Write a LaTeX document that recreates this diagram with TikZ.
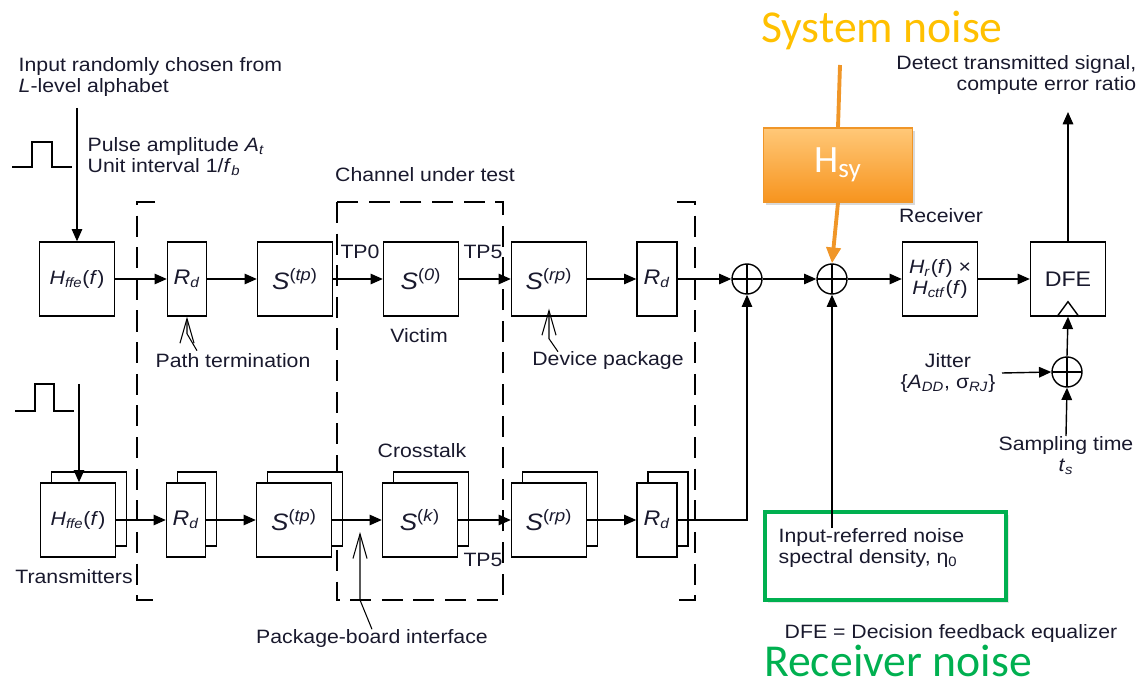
\documentclass[tikz,border=0pt]{standalone}
\usepackage{fontspec}
\setmainfont{Liberation Sans}[FakeStretch=1.1]
\newfontfamily\calib{Carlito}
\usetikzlibrary{arrows.meta,shadows}
\definecolor{sysorange}{RGB}{255,192,0}
\definecolor{hsyline}{RGB}{240,150,40}
\definecolor{hsytop}{RGB}{255,200,120}
\definecolor{hsybot}{RGB}{247,148,30}
\definecolor{rxgreen}{RGB}{0,176,80}
\definecolor{ink}{RGB}{25,25,45}
\newcommand{\spar}[1]{{\fontsize{13.5}{14}\selectfont\textit{S}\textsuperscript{(\textit{#1})}}}
\newcommand{\hffe}{\textit{H}\textsubscript{\textit{ffe}}(\textit{f})}
\newcommand{\rdterm}{{\fontsize{12}{13}\selectfont\textit{R}\textsubscript{\textit{d}}}}

\begin{document}
\begin{tikzpicture}[x=0.02cm, y=-0.02cm, line width=0.8pt,
  every node/.style={font=\fontsize{11}{12}\selectfont, text=ink},
  >={Triangle[length=7pt,width=6pt]},
  blk/.style={draw, fill=white, minimum width=1.5cm, minimum height=1.48cm, inner sep=0pt},
  rblk/.style={blk, minimum width=0.78cm},
  sumnode/.style={draw, circle, minimum size=0.6cm, inner sep=0pt,
    path picture={\draw (path picture bounding box.north) -- (path picture bounding box.south)
      (path picture bounding box.west) -- (path picture bounding box.east);}},
  sig/.style={->},
  callout/.style={-{Straight Barb[length=14pt,width=8pt]}, line width=0.6pt},
  frame/.style={dash pattern=on 12pt off 6pt},
  txt/.style={inner sep=0pt, align=left},
  bignote/.style={font=\calib\fontsize{26}{28}\selectfont, inner sep=0pt}]
\useasboundingbox (0,0) rectangle (1140,689);

% test frames
\draw[frame] (155,202) -- (137,202) -- (137,600) -- (155,600);
\draw[frame] (337,202) rectangle (503,600);
\draw[frame] (677,202) -- (695,202) -- (695,600) -- (677,600);

% victim path
\node[blk] (hffe1) at (77,279) {\hffe};
\node[rblk] (rd1) at (187,279) {\rdterm};
\node[blk] (stp1) at (295,279) {\spar{tp}};
\node[blk] (s0) at (421,279) {\spar{0}};
\node[blk] (srp1) at (549,279) {\spar{rp}};
\node[rblk, minimum width=0.8cm] (rd2) at (657,279) {\rdterm};
\node[sumnode] (sum1) at (747,279) {};
\node[sumnode] (sum2) at (832,279) {};
\node[blk, align=center] (rx) at (940,279) {\textit{H}\textsubscript{\textit{r}}(\textit{f}) ×\\\textit{H}\textsubscript{\textit{ctf}}(\textit{f})};
\node[blk, font=\fontsize{12}{13}\selectfont] (dfe) at (1068,279) {DFE};
\draw ([xshift=-0.22cm]dfe.south) -- ([yshift=0.3cm]dfe.south) -- ([xshift=0.22cm]dfe.south);

% crosstalk path
\node[blk] (hffe2b) at (89,509) {};
\node[blk] (hffe2) at (78,520) {\hffe};
\node[rblk] (rd3b) at (197,509) {};
\node[rblk] (rd3) at (186,520) {\rdterm};
\node[blk] (stp2b) at (305,509) {};
\node[blk] (stp2) at (294,520) {\spar{tp}};
\node[blk] (skb) at (431,509) {};
\node[blk] (sk) at (420,520) {\spar{k}};
\node[blk] (srp2b) at (560,509) {};
\node[blk] (srp2) at (549,520) {\spar{rp}};
\node[rblk, minimum width=0.8cm] (rd4b) at (668,509) {};
\node[rblk, minimum width=0.8cm] (rd4) at (657,520) {\rdterm};

% jitter
\node[sumnode] (sum3) at (1067,372) {};
\node[align=center] (jit) at (948,373) {Jitter\\\{\textit{A}\textsubscript{\textit{DD}}, σ\textsubscript{\textit{RJ}}\}};
\node[align=center, anchor=north, inner sep=0pt] (samp) at (1066,436) {Sampling time\\\textit{t}\textsubscript{\textit{s}}};

% system noise
\node[draw=hsyline, top color=hsytop, bottom color=hsybot, minimum width=2.98cm, minimum height=1.48cm,
  drop shadow={opacity=0.3, shadow xshift=1.5pt, shadow yshift=-1.5pt},
  text=white, font=\calib\fontsize{22}{24}\selectfont] (hsy) at (838,165) {H\textsubscript{sy}};
\coordinate (sysin) at (840,65);
\draw[line width=2.2pt, hsyline] (sysin) -- (hsy.north);
\draw[line width=2.2pt, hsyline, -{Triangle[length=9pt,width=8pt]}] (hsy.south) -- (sum2.north);

% receiver noise
\node[draw=rxgreen, fill=white, line width=2.3pt, minimum width=4.82cm, minimum height=1.76cm,
  drop shadow={opacity=0.2, shadow xshift=1.5pt, shadow yshift=-1.5pt}] (gbox) at (885.5,556) {};
\node[txt, anchor=north west] (eta) at (778,528) {Input-referred noise\\spectral density, η\textsubscript{0}};

% labels
\node[txt, anchor=north west] (inlbl) at (18,57) {Input randomly chosen from\\\textit{L}-level alphabet};
\node[txt, anchor=north west] (pulselbl) at (87,137) {Pulse amplitude \textit{A}\textsubscript{\textit{t}}\\Unit interval 1/\textit{f}\textsubscript{\textit{b}}};
\node[inner sep=0pt] (cut) at (425,175) {Channel under test};
\node[inner sep=0pt] (tp0) at (360,252) {TP0};
\node[inner sep=0pt] (tp5a) at (483,252) {TP5};
\node[inner sep=0pt] (victim) at (419,336) {Victim};
\node[inner sep=0pt] (pterm) at (233,361) {Path termination};
\node[inner sep=0pt] (dpkg) at (608,361) {Device package};
\node[inner sep=0pt] (rxlbl) at (941,216) {Receiver};
\node[txt, align=right, anchor=north east] (detect) at (1137,55) {Detect transmitted signal,\\compute error ratio};
\node[inner sep=0pt] (xtalk) at (422,451) {Crosstalk};
\node[inner sep=0pt] (tp5b) at (483,560) {TP5};
\node[inner sep=0pt] (txlbl) at (74,577) {Transmitters};
\node[inner sep=0pt] (pbi) at (372,639) {Package-board interface};
\node[inner sep=0pt] (dfenote) at (951,634) {DFE = Decision feedback equalizer};
\node[bignote, text=sysorange, anchor=base] (sysn) at (882,43) {System noise};
\node[bignote, text=rxgreen, anchor=base] (rxn) at (898,676) {Receiver noise};

% input pulses
\draw[line width=0.7pt] (12,167) -- (32,167) -- (32,142) -- (52,142) -- (52,167) -- (72,167);
\draw[line width=0.7pt] (15,411) -- (35,411) -- (35,384) -- (54,384) -- (54,411) -- (74,411);
\coordinate (inb) at (79,384);
\coordinate (intop) at (77,108);
\coordinate (dfeout) at (1068,112);
\coordinate (pbtip) at (360,532);

% signal flow
\draw[sig] (intop) -- (hffe1.north);
\draw[sig] (inb) -- (inb |- hffe2.north);
\foreach \a/\b in {hffe1/rd1, rd1/stp1, stp1/s0, s0/srp1, srp1/rd2, rd2/sum1, sum1/sum2, sum2/rx, rx/dfe, hffe2/rd3, rd3/stp2, stp2/sk, sk/srp2, srp2/rd4}
  \draw[sig] (\a.east) -- (\b.west);
\draw[sig] (rd4.east) -| (sum1.south);
\draw[sig] (eta.north -| sum2.south) -- (sum2.south);
\draw[sig] (dfe.north) -- (dfeout);
\draw[sig] (jit.east) -- (sum3.west);
\draw[sig] (samp.north) -- (sum3.south);
\draw[sig] (sum3.north) -- (dfe.south);

% callouts
\draw[callout] (rd1.south) ++(10,34) -- ++(-10,-17) -- (rd1.south);
\draw[callout] (srp1.south) ++(9,35) -- ++(-9,-13) -- ([yshift=0.16cm]srp1.south);
\draw[callout] (pbi.north) -- (pbtip |- 0,600) -- (pbtip);
\end{tikzpicture}
\end{document}
